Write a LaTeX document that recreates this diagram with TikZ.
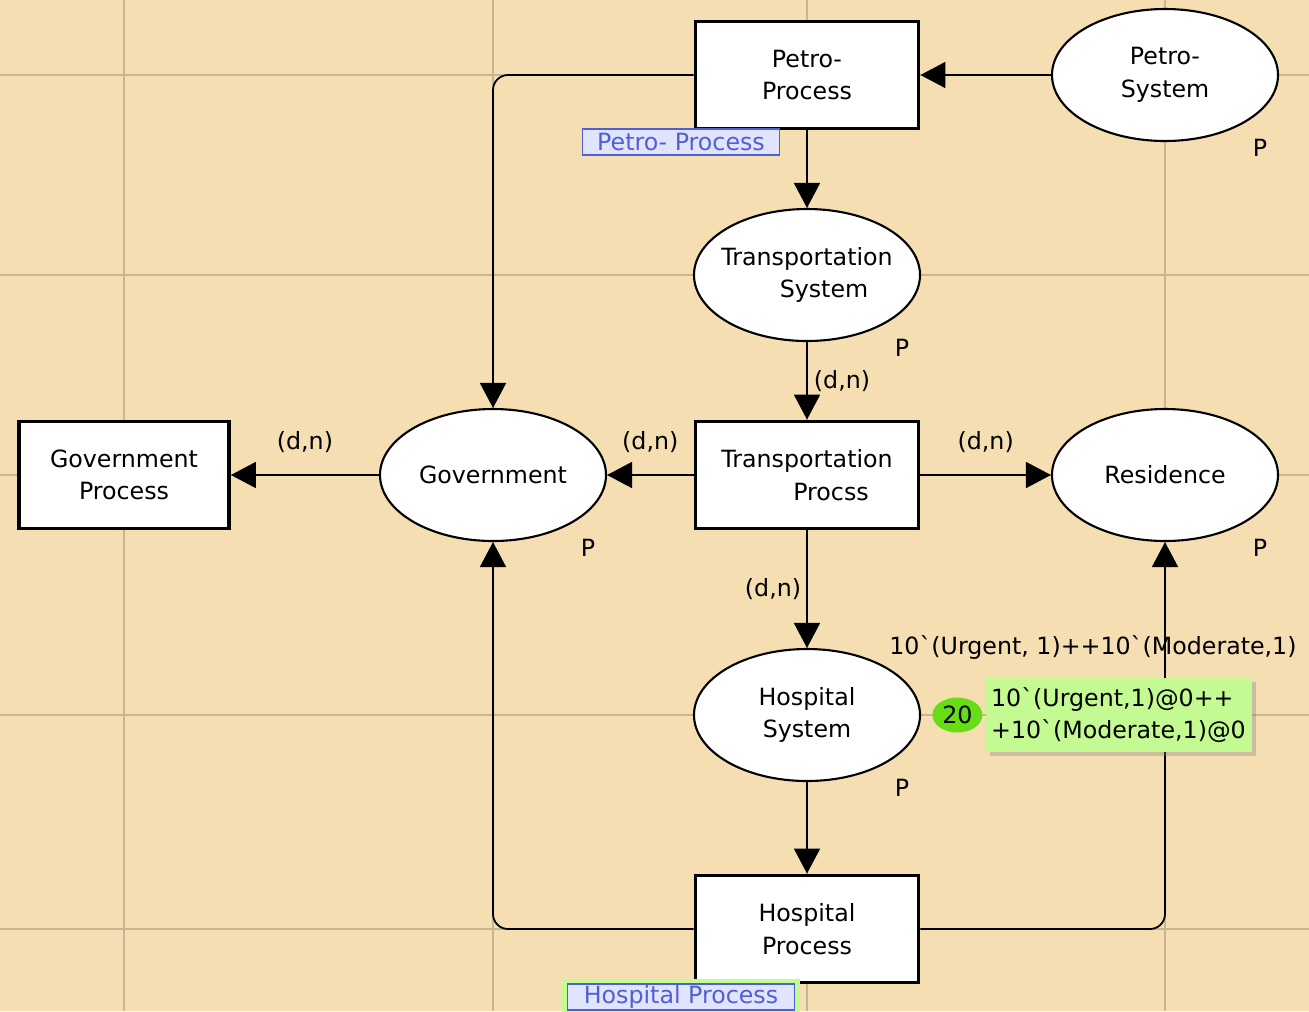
\documentclass[tikz,border=0pt]{standalone}
\usepackage{fontspec}
\setmainfont{DejaVu Sans}[Ligatures=TeXOff]
\usetikzlibrary{shapes,arrows.meta,positioning,shadows}

\definecolor{cpnbg}{RGB}{244,222,178}
\definecolor{cpngrid}{RGB}{200,181,146}
\definecolor{cpnblue}{RGB}{80,96,210}
\definecolor{cpnlav}{RGB}{224,228,255}
\definecolor{cpnmark}{RGB}{196,250,146}
\definecolor{cpntok}{RGB}{102,221,20}

\begin{document}
\begin{tikzpicture}[font=\fontsize{13.5}{18.5}\selectfont,
    place/.style={draw, ellipse, fill=white, line width=1.2pt, minimum width=4.52cm, minimum height=2.64cm, inner xsep=-0.2cm, inner ysep=0pt, align=center},
    trans/.style={draw, rectangle, fill=white, line width=2.2pt, minimum width=4.46cm, minimum height=2.14cm, inner sep=0pt, align=center},
    arc/.style={-{Triangle[length=5mm,width=5.2mm]}, line width=1pt},
    guide/.style={draw=cpngrid, line width=0.9pt},
    tag/.style={draw=cpnblue, fill=cpnlav, text=cpnblue, line width=1pt, inner sep=0pt, minimum height=0.52cm}]

    % canvas with the guide lines
    \fill[cpnbg] (0,0) rectangle (26.18,-20.22);
    \useasboundingbox (0,0) rectangle (26.18,-20.22);
    \foreach \gx in {2.48,9.86,16.14,23.3}
        \draw[guide] (\gx,0) -- (\gx,-20.22);
    \foreach \gy in {-1.5,-5.5,-9.5,-14.3,-18.58}
        \draw[guide] (0,\gy) -- (26.18,\gy);

    % places and transitions
    \node (transproc) [trans] at (16.14,-9.5) {Transportation\\\hspace*{0.96cm}Procss};
    \node (gov) [place, node distance=6.28cm, left of=transproc] {Government};
    \node (govproc) [trans, node distance=7.38cm, left of=gov, minimum width=4.2cm] {Government\\Process};
    \node (res) [place, node distance=7.16cm, right of=transproc] {Residence};
    \node (transsys) [place, node distance=4cm, above of=transproc] {Transportation\\\hspace*{0.68cm}System};
    \node (petroproc) [trans, node distance=4cm, above of=transsys] {Petro-\\Process};
    \node (petrosys) [place, node distance=7.16cm, right of=petroproc] {Petro-\\System};
    \node (hospsys) [place, node distance=4.8cm, below of=transproc] {Hospital\\System};
    \node (hospproc) [trans, node distance=4.28cm, below of=hospsys] {Hospital\\Process};

    \foreach \n in {petrosys,transsys,gov,res,hospsys}
        \node (\n-type) at ([shift={(1.9,-1.46)}]\n.center) {P};

    % arcs
    \draw[arc] (petrosys) -- (petroproc);
    \draw[arc] (petroproc) -- (transsys);
    \draw[arc, rounded corners=0.3cm] (petroproc.west) -| (gov.north);
    \draw[arc] (transsys) -- node[xshift=0.7cm] {(d,n)} (transproc);
    \draw[arc] (transproc) -- node[yshift=0.66cm] {(d,n)} (gov);
    \draw[arc] (gov) -- node[yshift=0.66cm] {(d,n)} (govproc);
    \draw[arc] (transproc) -- node[yshift=0.66cm] {(d,n)} (res);
    \draw[arc] (transproc) -- node[xshift=-0.68cm] {(d,n)} (hospsys);
    \draw[arc] (hospsys) -- (hospproc);
    \draw[arc, rounded corners=0.3cm] (hospproc.west) -| (gov.south);
    \draw[arc, rounded corners=0.3cm] (hospproc.east) -| (res.south);

    % marking of Hospital System
    \node (initmark) at (21.86,-12.94) {10`(Urgent, 1)++10`(Moderate,1)};
    \node (tokens) [ellipse, fill=cpntok, minimum width=1cm, minimum height=0.7cm, inner sep=0pt, right=0.22cm of hospsys] {20};
    \node (curmark) [fill=cpnmark, align=left, text width=5.12cm, inner sep=0.1cm, minimum height=1.48cm, right=0.06cm of tokens,
        drop shadow={shadow xshift=0.07cm, shadow yshift=-0.07cm, opacity=0.35}] {10`(Urgent,1)@0++\\+10`(Moderate,1)@0};

    % page tags
    \node (petrotag) [tag, minimum width=3.94cm] at ([shift={(-2.52,-1.34)}]petroproc.center) {Petro- Process};
    \node (hosptag) [tag, minimum width=4.54cm, preaction={draw=cpnmark, line width=6pt}] at ([shift={(-2.52,-1.36)}]hospproc.center) {Hospital Process};
\end{tikzpicture}
\end{document}
